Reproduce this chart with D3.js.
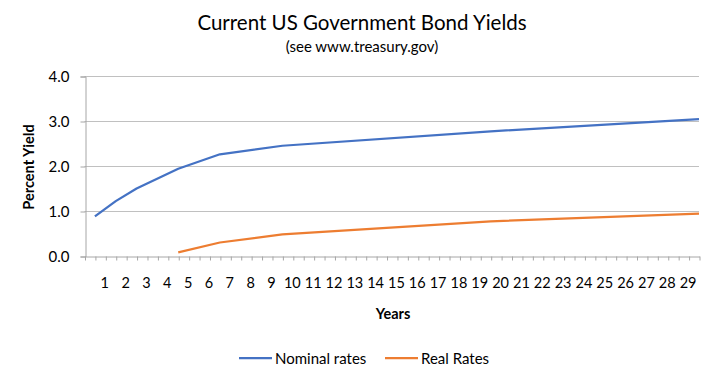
<!DOCTYPE html>
<html>
<head>
<meta charset="utf-8">
<script src="https://cdn.jsdelivr.net/npm/d3@7"></script>
<style>
  html, body { margin: 0; padding: 0; background: #fff; }
  svg { display: block; font-family: Lato, "Open Sans", sans-serif; }
</style>
</head>
<body>
<svg id="chart" width="720" height="377"></svg>
<script>
// ---- data (x = position on year axis, maturity - 0.5) ----
const yearLabels = d3.range(1, 30);
const nominalX = [0.5, 1.5, 2.5, 4.5, 6.5, 9.5, 19.5, 29.5];
const nominalY = [0.88, 1.22, 1.50, 1.94, 2.26, 2.45, 2.77, 3.04];
const realX = [4.5, 6.5, 9.5, 19.5, 29.5];
const realY = [0.08, 0.30, 0.48, 0.77, 0.94];
const yTicks = [0, 1, 2, 3, 4];
const seriesNames = ["Nominal rates", "Real Rates"];
const colors = ["#4472C4", "#ED7D31"];

const svg = d3.select("#chart");
const plotLeft = 84.5, plotRight = 699, plotTop = 76, plotBottom = 256;

const x = d3.scaleLinear().domain([0, 29.5]).range([plotLeft, plotRight]);
const y = d3.scaleLinear().domain([0, 4]).range([plotBottom, plotTop]);

// title
svg.append("text").attr("x", 362).attr("y", 30).attr("text-anchor", "middle")
  .style("font-size", "20.5px").attr("fill", "#000").text("Current US Government Bond Yields");
svg.append("text").attr("x", 362).attr("y", 52).attr("text-anchor", "middle")
  .style("font-size", "15px").attr("fill", "#000").text("(see www.treasury.gov)");

// gridlines
svg.append("g").selectAll("line").data(yTicks.filter(d => d > 0)).join("line")
  .attr("x1", plotLeft).attr("x2", plotRight)
  .attr("y1", d => Math.round(y(d)) + 0.5).attr("y2", d => Math.round(y(d)) + 0.5)
  .attr("stroke", "#c0c0c0").attr("stroke-width", 1);

// y axis
const yAxis = d3.axisLeft(y).tickValues(yTicks).tickFormat(d3.format(".1f")).tickSize(5).tickPadding(11);
const gy = svg.append("g").attr("transform", `translate(${Math.round(plotLeft) + 0.5},0.5)`).call(yAxis);
gy.select(".domain").attr("stroke", "#a6a6a6");
gy.selectAll(".tick line").attr("stroke", "#a6a6a6");
gy.selectAll("text").style("font-size", "15px").attr("fill", "#000").style("font-family", "Lato, sans-serif");

// x axis: minor ticks every half-year, labels at integers
const gx = svg.append("g").attr("transform", `translate(0.5,${Math.round(plotBottom) + 0.5})`);
const xAxisTicks = d3.axisBottom(x).tickValues(d3.range(0, 29.51, 0.5)).tickFormat("").tickSize(4).tickSizeOuter(0);
gx.call(xAxisTicks);
gx.select(".domain").attr("stroke", "#a6a6a6");
gx.selectAll(".tick line").attr("stroke", "#a6a6a6");
svg.append("g").selectAll("text").data(yearLabels).join("text")
  .attr("x", d => x(d) - 0.5).attr("y", 288).attr("text-anchor", "middle")
  .style("font-size", "14.5px").attr("fill", "#000").text(d => d);

// axis titles
svg.append("text").attr("transform", "translate(34,167) rotate(-90)").attr("text-anchor", "middle")
  .style("font-size", "14.5px").style("font-weight", "bold").attr("fill", "#000").text("Percent Yield");
svg.append("text").attr("x", 393).attr("y", 319).attr("text-anchor", "middle")
  .style("font-size", "14.5px").style("font-weight", "bold").attr("fill", "#000").text("Years");

// lines
const line = d3.line().x(d => x(d[0])).y(d => y(d[1]));
const series = [
  d3.zip(nominalX, nominalY),
  d3.zip(realX, realY)
];
svg.append("g").selectAll("path").data(series).join("path")
  .attr("d", line).attr("fill", "none")
  .attr("stroke", (d, i) => colors[i]).attr("stroke-width", 2.25)
  .attr("stroke-linejoin", "round");

// legend
const legendX = [239, 385];
const lg = svg.append("g").selectAll("g").data(seriesNames).join("g")
  .attr("transform", (d, i) => `translate(${legendX[i]},358)`);
lg.append("line").attr("x1", 0).attr("x2", 33).attr("y1", 0).attr("y2", 0)
  .attr("stroke", (d, i) => colors[i]).attr("stroke-width", 2.25);
lg.append("text").attr("x", 36).attr("y", 5.5).style("font-size", "15px").attr("fill", "#000").text(d => d);
</script>
</body>
</html>
